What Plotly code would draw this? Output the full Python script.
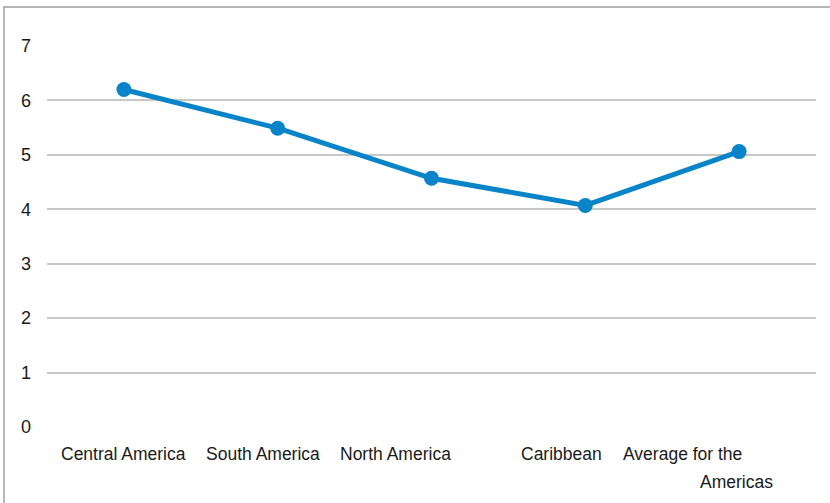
import plotly.graph_objects as go

categories = ["Central America", "South America", "North America", "Caribbean", "Average for the Americas"]
values = [6.2, 5.49, 4.57, 4.07, 5.06]
y_ticks = [0, 1, 2, 3, 4, 5, 6, 7]

# label lines (as wrapped in the original) and their pixel offsets from category centre
label_lines = [["Central America"], ["South America"], ["North America"], ["Caribbean"], ["Average for the", "Americas"]]
label_shifts = [[0], [-15], [-36], [-24], [-57, -3]]

FONT = "Liberation Sans Narrow, Arial Narrow, Liberation Sans, Arial, sans-serif"
W, H = 830, 503
L, R, T, B = 47, 14, 46, 76

fig = go.Figure()
fig.add_trace(go.Scatter(
    x=categories, y=values, mode="lines+markers",
    line=dict(color="#0A84C8", width=5),
    marker=dict(color="#0A84C8", size=15),
    cliponaxis=False, showlegend=False,
))

annotations = []
for cat, lines, shifts in zip(categories, label_lines, label_shifts):
    for i, (txt, sh) in enumerate(zip(lines, shifts)):
        annotations.append(dict(
            x=cat, xref="x", y=0, yref="y", text=txt, showarrow=False,
            xanchor="center", yanchor="middle", xshift=sh, yshift=-27 - 28 * i,
            font=dict(family=FONT, size=17.5, color="#1a1a1a"),
        ))

fig.update_layout(
    width=W, height=H,
    margin=dict(l=L, r=R, t=T, b=B),
    paper_bgcolor="white", plot_bgcolor="white",
    annotations=annotations,
    xaxis=dict(range=[-0.5, len(categories) - 0.5], showticklabels=False, showgrid=False,
               zeroline=False, showline=False, ticks=""),
    yaxis=dict(range=[0, 7], tickvals=y_ticks, showgrid=True, gridcolor="#C8C8C8", gridwidth=1.5,
               zeroline=False, showline=False, ticks="", ticklabelstandoff=15,
               tickfont=dict(family=FONT, size=18, color="#1a1a1a")),
    shapes=[dict(type="rect", xref="paper", yref="paper",
                 x0=-(L - 4) / (W - L - R), x1=1 + (R + 10) / (W - L - R),
                 y0=-(B + 10) / (H - T - B), y1=1 + (T - 7) / (H - T - B),
                 line=dict(color="#A0A0A0", width=1.5), fillcolor="rgba(0,0,0,0)", layer="below")],
)

fig.write_html("out.html")
